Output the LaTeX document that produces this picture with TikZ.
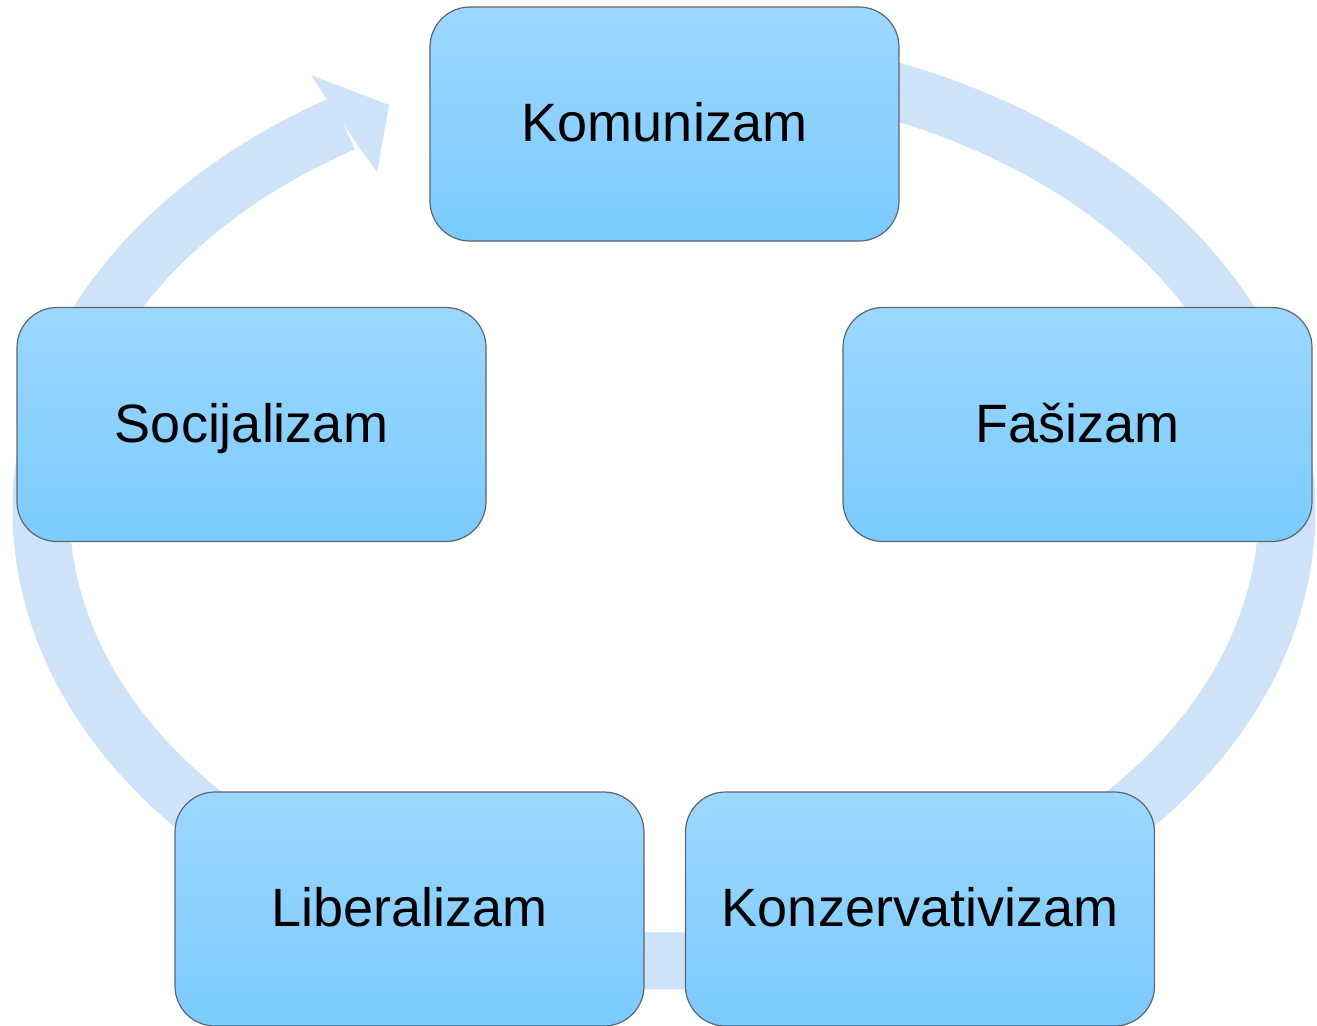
\documentclass[tikz,border=0pt]{standalone}
\usepackage{fontspec}
\setmainfont{Liberation Sans}
\usepackage{tikz}
\definecolor{ringblue}{RGB}{206,227,247}
\definecolor{boxtop}{RGB}{157,215,255}
\definecolor{boxbot}{RGB}{122,203,255}
\definecolor{boxline}{RGB}{92,102,114}
\tikzset{ideabox/.style={draw=boxline, line width=0.6pt, rounded corners=20pt,
    top color=boxtop, bottom color=boxbot, minimum width=234.5pt, minimum height=117pt,
    inner sep=0pt, text height=19.3pt, text depth=1.5pt, font=\fontsize{27}{32}\selectfont}}
\newcommand{\ideabox}[4]{\node[ideabox] (#1) at ( #2 , #3 ) {#4};}

\begin{document}
\begin{tikzpicture}[x=0.5pt, y=-0.5pt]
        \useasboundingbox (0,0) rectangle (1317,1025);
        % ring
        \draw[ringblue, line width=28.5pt, line cap=butt]
            plot[domain=-239:95, samples=240, smooth] ({664+623*cos(\x)}, {510-451*sin(\x)});
        % arrow head
        \fill[ringblue] (327,100) -- (311,75) -- (389,105) -- (377,172) -- (359,147) -- cycle;

        % top
        \ideabox{komunizam}{664.5}{124}{Komunizam}
        % middle row
        \ideabox{socijalizam}{251.5}{424.5}{Socijalizam}
        \ideabox{fasizam}{1077.5}{424.5}{Fašizam}
        % bottom row
        \ideabox{liberalizam}{409.5}{909}{Liberalizam}
        \ideabox{konzervativizam}{920}{909}{Konzervativizam}
\end{tikzpicture}
\end{document}
